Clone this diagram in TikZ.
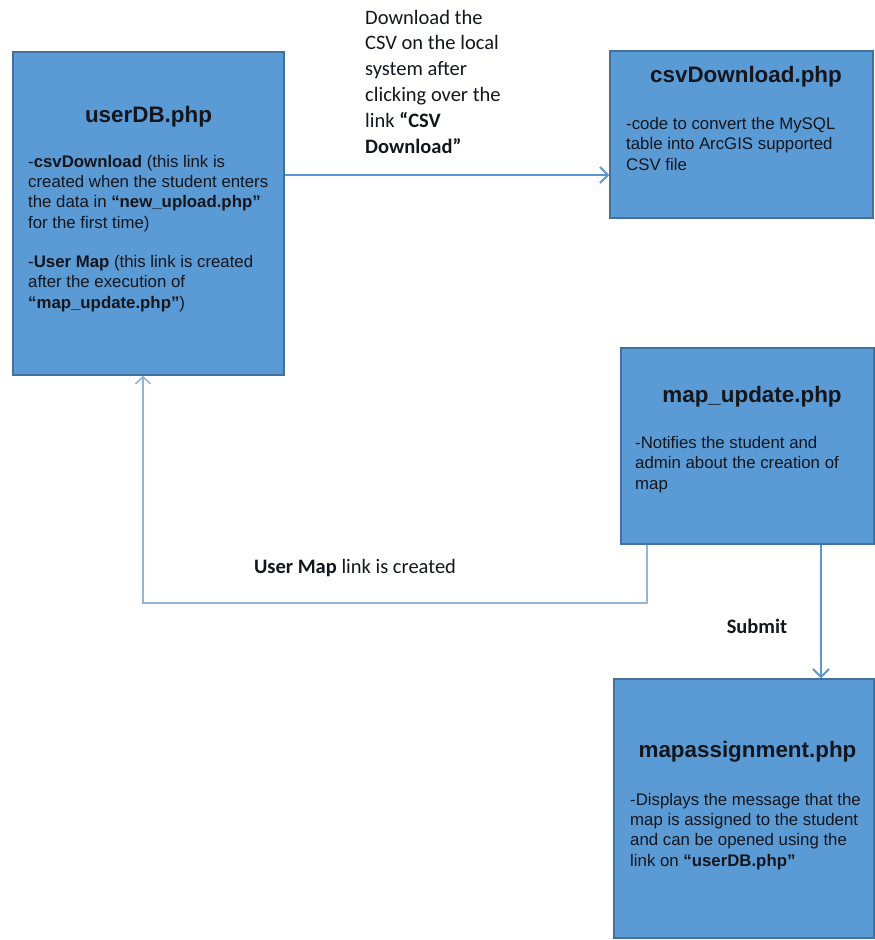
\documentclass[tikz,border=0pt]{standalone}
\usepackage{fontspec}
\setmainfont{Liberation Sans}
\newfontfamily\labelfont{Carlito}
\usetikzlibrary{positioning,arrows.meta}
\definecolor{boxfill}{RGB}{91,155,213}
\definecolor{boxedge}{RGB}{65,113,156}
\definecolor{linkblue}{RGB}{91,150,212}
\definecolor{loopline}{RGB}{150,180,215}
\definecolor{ink}{RGB}{20,22,30}

\begin{document}
\begin{tikzpicture}[x=1pt, y=-1pt, page/.style={draw=boxedge, line width=1.5pt, fill=boxfill, inner sep=0pt}, title/.style={font=\fontsize{22.4}{27}\selectfont\bfseries, text=ink, anchor=base, inner sep=0pt}, body/.style={font=\fontsize{16.8}{20.3}\selectfont, text=ink, align=left, anchor=base west, inner sep=0pt}, tag/.style={font=\labelfont\fontsize{20.5}{25.8}\selectfont, text=ink, align=left, inner sep=0pt}, link/.style={draw=linkblue, line width=2.4pt, -{Straight Barb[length=8pt,width=16pt,line width=1.8pt]}}, backlink/.style={draw=loopline, line width=1.4pt, -{Straight Barb[length=7pt,width=15pt,line width=1.6pt]}}]

\useasboundingbox (0,0) rectangle (875,940);

\node[page, minimum width=271pt, minimum height=323pt] (userdb) at (148.5,213.5) {};
\node[page, minimum width=263pt, minimum height=167pt] (csvdown) at (741.5,134.5) {};
\node[page, minimum width=253pt, minimum height=196pt] (mapupdate) at (747.5,446) {};
\node[page, minimum width=260pt, minimum height=259pt] (mapassign) at (744,808.5) {};

\node[title] (userdbtitle) at (148.5,122) {userDB.php};
\node[title] (csvtitle) at (746,82) {csvDownload.php};
\node[title] (updatetitle) at (752,402) {map\_update.php};
\node[title] (assigntitle) at (747.5,757) {mapassignment.php};

\node[body] (userdbtext) at (28,228) {-\textbf{csvDownload} (this link is\\created when the student enters\\the data in \textbf{“new\_upload.php”}\\for the first time)};
\node[body] (usermaptext) at (28,308) {-\textbf{User Map} (this link is created\\after the execution of\\\textbf{“map\_update.php”})};
\node[body] (csvtext) at (626,170) {-code to convert the MySQL\\table into ArcGIS supported\\CSV file};
\node[body] (updatetext) at (635,489) {-Notifies the student and\\admin about the creation of\\map};
\node[body] (assigntext) at (630,866) {-Displays the message that the\\map is assigned to the student\\and can be opened using the\\link on \textbf{“userDB.php”}};

\node[tag, anchor=base west] (dltext) at (365,153) {Download the\\CSV on the local\\system after\\clicking over the\\link \textbf{“CSV}\\\textbf{Download”}};
\node[tag, anchor=base] (maptext) at (355,573) {\textbf{User Map} link is created};
\node[tag, anchor=base] (submittext) at (757,633) {\textbf{Submit}};

\coordinate (dlrow) at (0,175);
\coordinate (submitcol) at (821,0);
\coordinate (maprow) at (0,603);
\coordinate (mapcol) at (647,0);
\coordinate (dbcol) at (143,0);

\draw[link] (userdb.east |- dlrow) -- (csvdown.west |- dlrow);
\draw[link] (mapupdate.south -| submitcol) -- (mapassign.north -| submitcol);
\draw[backlink] (mapupdate.south -| mapcol) |- (maprow -| dbcol) -- (userdb.south -| dbcol);
\end{tikzpicture}
\end{document}
